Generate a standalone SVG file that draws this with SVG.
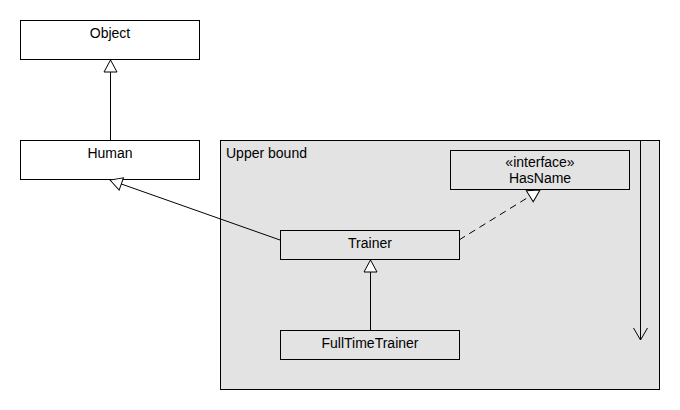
<svg xmlns="http://www.w3.org/2000/svg" width="680" height="410" viewBox="0 0 680 410">
<defs>
<style>
text{font-family:"Liberation Sans",Arial,sans-serif;font-size:14px;fill:#000}
.c{text-anchor:middle}
.box{fill:#fff;stroke:#000;stroke-width:1}
.gbox{fill:#e3e3e3;stroke:#000;stroke-width:1}
.ln{stroke:#000;stroke-width:1;fill:none}
.dash{stroke-dasharray:7,5}
</style>
<marker id="tri" markerUnits="userSpaceOnUse" markerWidth="16" markerHeight="16" viewBox="-14 -8 16 16" refX="0" refY="0" orient="auto">
<path d="M0,0 L-12,-6.5 L-12,6.5 Z" fill="#fff" stroke="#000" stroke-width="1"/>
</marker>
<marker id="open" markerUnits="userSpaceOnUse" markerWidth="18" markerHeight="18" viewBox="-15 -9 17 18" refX="0" refY="0" orient="auto">
<path d="M-12,-7 L0,0 L-12,7" fill="none" stroke="#000" stroke-width="1"/>
</marker>
</defs>
<rect width="680" height="410" fill="#fff"/>
<g id="upper-bound">
<rect class="gbox" x="220.5" y="140.5" width="439" height="249"/>
<text x="226" y="158">Upper bound</text>
</g>
<g id="object">
<rect class="box" x="20.5" y="20.5" width="179" height="39"/>
<text class="c" x="110" y="38">Object</text>
</g>
<g id="human">
<rect class="box" x="20.5" y="140.5" width="179" height="39"/>
<text class="c" x="110" y="158">Human</text>
</g>
<g id="hasname">
<rect class="gbox" x="450.5" y="150.5" width="179" height="39"/>
<text class="c" x="540" y="167">«interface»</text>
<text class="c" x="540" y="183">HasName</text>
</g>
<g id="trainer">
<rect class="gbox" x="280.5" y="230.5" width="179" height="29"/>
<text class="c" x="370" y="248">Trainer</text>
</g>
<g id="fulltimetrainer">
<rect class="gbox" x="280.5" y="330.5" width="179" height="29"/>
<text class="c" x="370" y="348">FullTimeTrainer</text>
</g>
<g id="connectors">
<line class="ln" x1="110.5" y1="140" x2="110.5" y2="60" marker-end="url(#tri)"/>
<line class="ln" x1="280" y1="240" x2="110" y2="180" marker-end="url(#tri)"/>
<line class="ln dash" x1="459" y1="240" x2="540" y2="190" marker-end="url(#tri)"/>
<line class="ln" x1="370.5" y1="330" x2="370.5" y2="260" marker-end="url(#tri)"/>
<line class="ln" x1="640.5" y1="140.5" x2="640.5" y2="340" marker-end="url(#open)"/>
</g>
</svg>
